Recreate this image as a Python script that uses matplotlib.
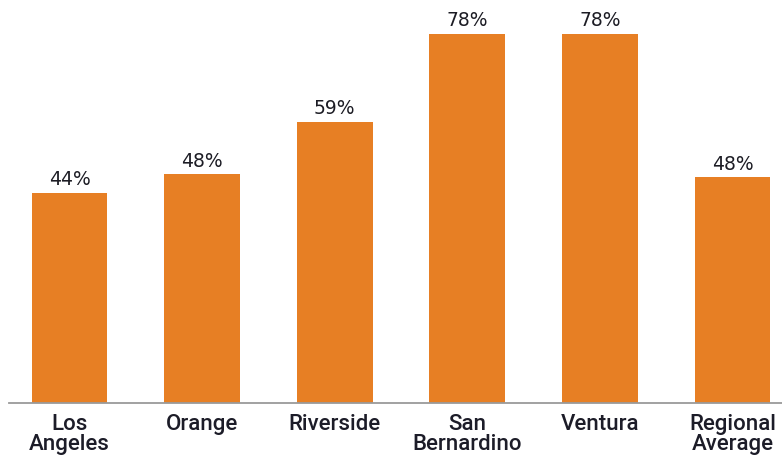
import matplotlib
matplotlib.use('Agg')
import matplotlib.pyplot as plt
import numpy as np

# counties and values
counties = ['Los\nAngeles', 'Orange', 'Riverside', 'San\nBernardino', 'Ventura', 'Regional\nAverage']
values = [44.4, 48.4, 59.4, 78.0, 78.0, 47.7]
value_labels = ['44%', '48%', '59%', '78%', '78%', '48%']

bar_color = '#E77F24'

fig = plt.figure(figsize=(7.82, 4.64), dpi=100)
ax = fig.add_axes([9 / 782, 1 - 404 / 464, 1 - 9 / 782, 404 / 464])

x = np.arange(len(counties))
bars = ax.bar(x, values, width=0.571, color=bar_color)

# value labels above the bars
for b, lab in zip(bars, value_labels):
    ax.text(b.get_x() + b.get_width() / 2, b.get_height() + 1.8, lab,
            ha='center', va='baseline', fontsize=13.5, color='#1c1c24',
            family='DejaVu Sans')

ax.set_xlim(-0.456, 5.373)
ax.set_ylim(0, 85.4)
ax.set_xticks(x)
ax.set_xticklabels(counties, fontsize=16, fontweight='medium', family='Roboto',
                   color='#1c1c28', linespacing=0.95)
ax.tick_params(axis='x', length=0, pad=7)
ax.set_yticks([])

for s in ['top', 'right', 'left']:
    ax.spines[s].set_visible(False)
ax.spines['bottom'].set_color('#9a9a9a')
ax.spines['bottom'].set_linewidth(1.3)

fig.savefig('out.png', dpi=100)
